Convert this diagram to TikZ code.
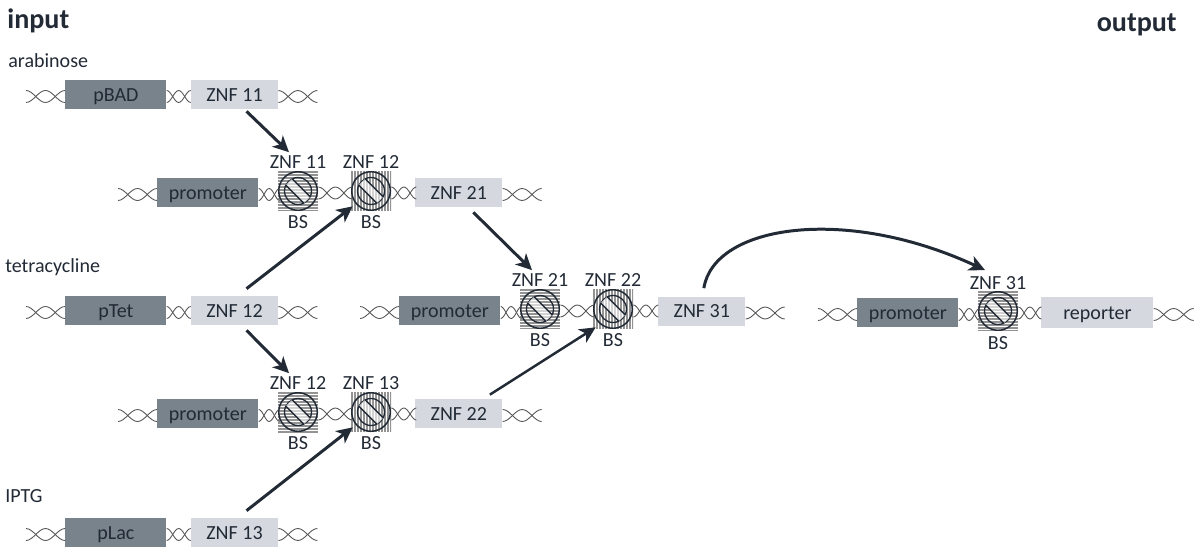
\documentclass[tikz,border=0pt]{standalone}
\usepackage{fontspec}
\setmainfont{Carlito}
\usetikzlibrary{arrows.meta, positioning, calc}
\definecolor{promgray}{RGB}{120,131,139}
\definecolor{genegray}{RGB}{213,217,223}
\definecolor{inkdark}{RGB}{34,42,53}
\definecolor{strandgray}{RGB}{85,85,85}

% one stretch of double helix, starts at #1 and runs for #2 units
\newcommand{\helix}[2]{%
  \pgfmathsetmacro{\hstep}{#2/4}
  \draw[strand] ($(#1)+(0,-4)$) cos ++(\hstep,6) sin ++(\hstep,6) cos ++(\hstep,-6) sin ++(\hstep,-6);
  \draw[strand] ($(#1)+(0,8)$) cos ++(\hstep,-6) sin ++(\hstep,-6) cos ++(\hstep,6) sin ++(\hstep,6);
}
% ring with the crossed out inner disc
\newcommand{\signmark}{%
  \begin{scope}[shift={(path picture bounding box.center)}]
    \draw[inkdark, line width=0.85pt] (0,0) circle (19.3);
    \draw[inkdark, line width=0.75pt] (0,0) circle (13.5);
    \fill[white, fill opacity=0.6] (12.4,6) -- (-6,-12.4) -- (-12.4,-6) -- (6,12.4) -- cycle;
    \draw[inkdark, line width=0.75pt] (12.4,6) -- (-6,-12.4) (6,12.4) -- (-12.4,-6);
  \end{scope}
}

\begin{document}
\begin{tikzpicture}[
  x=0.02cm, y=-0.02cm,
  every node/.style={font=\fontsize{11.4pt}{13pt}\selectfont, text=inkdark},
  promo/.style={fill=promgray, minimum width=2.02cm, minimum height=0.58cm, inner sep=0pt, text height=9.5pt, text depth=2pt},
  gene/.style={fill=genegray, minimum width=1.74cm, minimum height=0.58cm, inner sep=0pt, text height=9.5pt, text depth=2pt},
  sitelabel/.style={inner sep=0pt},
  heading/.style={font=\fontsize{16pt}{18pt}\selectfont\bfseries, inner sep=0pt},
  strand/.style={strandgray, line width=0.5pt},
  arr/.style={-{Stealth[length=3.2mm, width=3.1mm, inset=0.9mm]}, line width=1.7pt, inkdark},
  bsh/.style={minimum size=0.8cm, inner sep=0pt, path picture={
    \foreach \k in {-19,-16,...,20}
      \draw[gray!85, line width=0.85pt] ($(path picture bounding box.center)+(-20,\k)$) -- ++(40,0);
    \signmark
  }},
  bsv/.style={minimum size=0.8cm, inner sep=0pt, path picture={
    \foreach \k in {-19,-16,...,20}
      \draw[gray!85, line width=0.85pt] ($(path picture bounding box.center)+(\k,-20)$) -- ++(0,40);
    \signmark
  }},
]
  \useasboundingbox (0,0) rectangle (1195,547);

  \node[heading, anchor=west] (input) at (7,21) {input};
  \node[heading, anchor=east] (output) at (1177,25) {output};
  \node[anchor=west, inner sep=0pt] (arabinose) at (8,61) {arabinose};
  \node[anchor=west, inner sep=0pt] (tetracycline) at (5,267) {tetracycline};
  \node[anchor=west, inner sep=0pt] (iptg) at (5,496) {IPTG};

  % input cassettes
  \node[promo, anchor=west] (pbad) at (65,94.5) {pBAD};
  \node[gene, right=0.48cm of pbad] (znfa) {ZNF 11};
  \node[promo, anchor=west] (ptet) at (65,310.5) {pTet};
  \node[gene, right=0.48cm of ptet] (znfb) {ZNF 12};
  \node[promo, anchor=west] (plac) at (65,532.5) {pLac};
  \node[gene, right=0.48cm of plac] (znfc) {ZNF 13};
  \helix{pbad.west}{-39}
  \helix{pbad.east}{24}
  \helix{znfa.east}{39}
  \helix{ptet.west}{-39}
  \helix{ptet.east}{24}
  \helix{znfb.east}{39}
  \helix{plac.west}{-39}
  \helix{plac.east}{24}
  \helix{znfc.east}{39}

  % first layer, upper
  \node[promo, anchor=west] (proma) at (157,192.5) {promoter};
  \node[bsh] (bsa) at (298,191) {};
  \node[bsv] (bsb) at (371,191) {};
  \node[gene, anchor=west] (znfd) at (415,192.5) {ZNF 21};
  \helix{proma.west}{-39}
  \helix{proma.east}{21}
  \helix{bsa.east}{34}
  \helix{bsb.east}{25}
  \helix{znfd.east}{39}
  \node[sitelabel] (laba) at (bsa |- 0,162) {ZNF 11};
  \node[sitelabel] (labb) at (bsb |- 0,162) {ZNF 12};
  \node[sitelabel] (sitea) at (bsa |- 0,222) {BS};
  \node[sitelabel] (siteb) at (bsb |- 0,222) {BS};

  % first layer, lower
  \node[promo, anchor=west] (promb) at (157,413.5) {promoter};
  \node[bsh] (bsc) at (298,412) {};
  \node[bsv] (bsd) at (371,412) {};
  \node[gene, anchor=west] (znfe) at (415,413.5) {ZNF 22};
  \helix{promb.west}{-39}
  \helix{promb.east}{21}
  \helix{bsc.east}{34}
  \helix{bsd.east}{25}
  \helix{znfe.east}{39}
  \node[sitelabel] (labc) at (bsc |- 0,383) {ZNF 12};
  \node[sitelabel] (labd) at (bsd |- 0,383) {ZNF 13};
  \node[sitelabel] (sitec) at (bsc |- 0,443) {BS};
  \node[sitelabel] (sited) at (bsd |- 0,443) {BS};

  % second layer
  \node[promo, anchor=west] (promc) at (399,310.5) {promoter};
  \node[bsh] (bse) at (540,309) {};
  \node[bsv] (bsf) at (613,309) {};
  \node[gene, anchor=west] (znff) at (658,311) {ZNF 31};
  \helix{promc.west}{-39}
  \helix{promc.east}{21}
  \helix{bse.east}{34}
  \helix{bsf.east}{25}
  \helix{znff.east}{39}
  \node[sitelabel] (labe) at (bse |- 0,280) {ZNF 21};
  \node[sitelabel] (labf) at (bsf |- 0,280) {ZNF 22};
  \node[sitelabel] (sitee) at (bse |- 0,340) {BS};
  \node[sitelabel] (sitef) at (bsf |- 0,340) {BS};

  % output cassette
  \node[promo, anchor=west] (promd) at (857,312.5) {promoter};
  \node[bsh] (bsg) at (998,311) {};
  \node[gene, minimum width=2.24cm, minimum height=0.62cm, anchor=west] (report) at (1041,312.5) {reporter};
  \helix{promd.west}{-39}
  \helix{promd.east}{21}
  \helix{bsg.east}{23}
  \helix{report.east}{40}
  \node[sitelabel] (labg) at (bsg |- 0,283) {ZNF 31};
  \node[sitelabel] (siteg) at (bsg |- 0,343) {BS};

  % connectors
  \draw[arr] ($(znfa.south)+(12,2)$) -- ($(laba.north)+(-9,-3)$);
  \draw[arr] ($(znfb.north)+(12,-7)$) -- ($(bsb.south west)+(2,-5)$);
  \draw[arr] ($(znfd.south)+(14.5,5)$) -- ($(labe.north)+(-8,-3)$);
  \draw[arr] ($(znfb.south)+(12,5)$) -- ($(labc.north)+(-9,-3)$);
  \draw[arr] ($(znfc.north)+(12,-7)$) -- ($(bsd.south west)+(2,-5)$);
  \draw[arr, line width=1.4pt] ($(znfe.north)+(31,-4)$) -- ($(bsf.south west)+(3,-2)$);
  \draw[arr] ($(znff.north)+(2,-8)$) .. controls +(10,-63) and +(-140,-65) .. ($(labg.north)+(-13,-6)$);
\end{tikzpicture}
\end{document}
